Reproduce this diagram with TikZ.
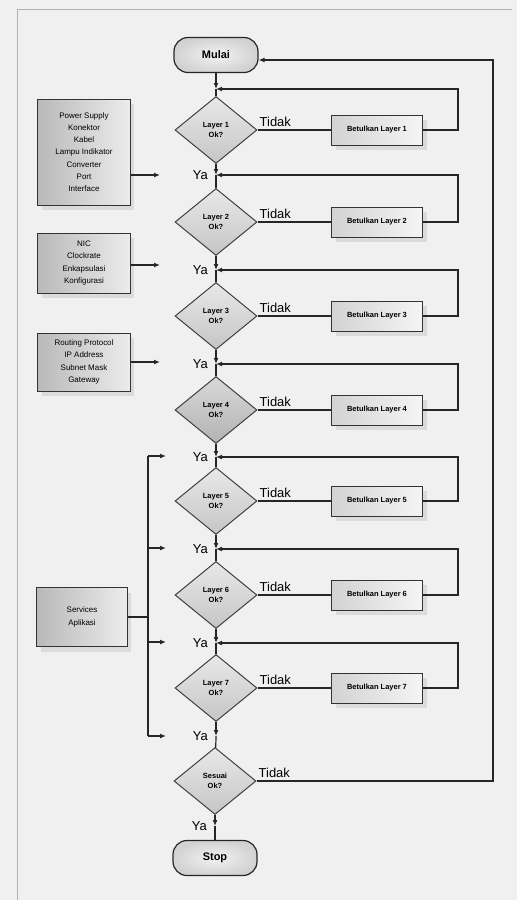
\documentclass[tikz,border=0pt]{standalone}
\usepackage{fontspec}
\setmainfont{Liberation Sans}
\usetikzlibrary{arrows.meta,shapes.geometric,shadows}

\tikzset{
  line/.style={draw=black!85, line width=1.2bp},
  flow/.style={line, -{Latex[length=6bp,width=5bp]}},
  terminal/.style={draw=black!85, line width=1.2bp, rounded corners=14bp,
    minimum width=84bp, minimum height=35bp, inner sep=0pt,
    inner color=gray!10, outer color=gray!35,
    font=\fontsize{11}{12}\selectfont\bfseries},
  decision/.style={diamond, draw=black!75, line width=1bp, inner sep=0pt,
    minimum width=82bp, minimum height=67bp,
    top color=gray!18, bottom color=gray!45, align=center,
    font=\fontsize{7.5}{9.5}\selectfont\bfseries},
  fixbox/.style={draw=black!80, line width=1bp, minimum width=91bp,
    minimum height=30bp, inner sep=1pt,
    left color=gray!35, right color=gray!8,
    drop shadow={opacity=0.18, shadow xshift=4bp, shadow yshift=-5bp},
    font=\fontsize{7.5}{9}\selectfont\bfseries},
  inbox/.style={draw=black!80, line width=1bp, minimum width=92bp,
    inner sep=1pt, align=center,
    left color=gray!55, right color=gray!15,
    drop shadow={opacity=0.18, shadow xshift=4bp, shadow yshift=-5bp},
    font=\fontsize{8}{12.3}\selectfont},
  lbl/.style={font=\fontsize{13}{14}\selectfont, inner sep=1pt},
}

\begin{document}
\begin{tikzpicture}[x=1bp,y=-1bp]
\useasboundingbox (0,0) rectangle (517,900);
% paper and frame
\fill[black!6] (0,0) rectangle (517,900);
\draw[black!30, line width=0.8bp] (17,900) -- (17,9) -- (512,9);

% terminals
\node[terminal] (mulai) at (216,55) {Mulai};
\node[terminal] (stop) at (215,858) {Stop};

% decisions
\node[decision] (L1) at (216,130) {Layer 1\\Ok?};
\node[decision] (L2) at (216,222) {Layer 2\\Ok?};
\node[decision] (L3) at (216,316) {Layer 3\\Ok?};
\node[decision, top color=gray!30, bottom color=gray!60] (L4) at (216,410) {Layer 4\\Ok?};
\node[decision] (L5) at (216,501) {Layer 5\\Ok?};
\node[decision] (L6) at (216,595) {Layer 6\\Ok?};
\node[decision] (L7) at (216,688) {Layer 7\\Ok?};
\node[decision] (S) at (215,781) {Sesuai\\Ok?};

% junctions on the main column
\coordinate (j0) at (216,89);
\coordinate (j1) at (216,175);
\coordinate (j2) at (216,270);
\coordinate (j3) at (216,364);
\coordinate (j4) at (216,457);
\coordinate (j5) at (216,549);
\coordinate (j6) at (216,643);
\coordinate (j7) at (216,736);
\coordinate (j8) at (215,826);

% correction boxes
\node[fixbox] (F1) at (377,130) {Betulkan Layer 1};
\node[fixbox] (F2) at (377,222) {Betulkan Layer 2};
\node[fixbox] (F3) at (377,316) {Betulkan Layer 3};
\node[fixbox] (F4) at (377,410) {Betulkan Layer 4};
\node[fixbox] (F5) at (377,501) {Betulkan Layer 5};
\node[fixbox] (F6) at (377,595) {Betulkan Layer 6};
\node[fixbox] (F7) at (377,688) {Betulkan Layer 7};

% main column
\draw[flow] (mulai) -- (j0);
\draw[line] (j0) -- (L1);
\foreach \a/\b/\c in {L1/j1/L2, L2/j2/L3, L3/j3/L4, L4/j4/L5, L5/j5/L6, L6/j6/L7, L7/j7/S}{
  \draw[flow] (\a) -- (\b);
  \draw[line] (\b) -- (\c);
  \node[lbl, anchor=east] at ([xshift=-7bp]\b) {Ya};
}
\draw[flow] (S) -- (j8);
\draw[line] (j8) -- (stop);
\node[lbl, anchor=east] at ([xshift=-7bp]j8) {Ya};

% "Tidak" branches and return loops
\foreach \k/\p in {1/0,2/1,3/2,4/3,5/4,6/5,7/6}{
  \draw[line] (L\k.east) -- (F\k.west);
  \node[lbl, anchor=south west] at ([xshift=1bp,yshift=2bp]L\k.east) {Tidak};
  \coordinate (r\k) at ([xshift=35bp]F\k.east);
  \draw[flow] (F\k.east) -- (r\k) |- (j\p);
}
\node[lbl, anchor=south west] at ([xshift=1bp,yshift=2bp]S.east) {Tidak};
\coordinate (rS) at (493,400);
\draw[flow] (S.east) -| (rS) |- ([yshift=-5bp]mulai.east);

% input boxes on the left
\node[inbox, minimum height=106bp] (B1) at (84,152)
  {Power Supply\\Konektor\\Kabel\\Lampu Indikator\\Converter\\Port\\Interface};
\node[inbox, minimum height=60bp] (B2) at (84,263)
  {NIC\\Clockrate\\Enkapsulasi\\Konfigurasi};
\node[inbox, minimum height=58bp] (B3) at (84,362)
  {Routing Protocol\\IP Address\\Subnet Mask\\Gateway};
\node[inbox, minimum width=90bp, minimum height=59bp] (B4) at (82,617)
  {Services\\Aplikasi};

\coordinate (a1) at (160,175);
\coordinate (a2) at (160,265);
\coordinate (a3) at (160,362);
\draw[flow] (B1.east |- a1) -- (a1);
\draw[flow] (B2.east |- a2) -- (a2);
\draw[flow] (B3.east |- a3) -- (a3);

% service bus feeding layers 5 to 7
\coordinate (bt) at (148,456);
\coordinate (bb) at (148,736);
\coordinate (bm) at (148,617);
\draw[line] (bt) -- (bb);
\draw[line] (B4.east) -- (bm);
\foreach \yy in {456,548,642,736}{
  \coordinate (t\yy) at (166,\yy);
  \coordinate (s\yy) at (148,\yy);
  \draw[flow] (s\yy) -- (t\yy);
}
\end{tikzpicture}
\end{document}
